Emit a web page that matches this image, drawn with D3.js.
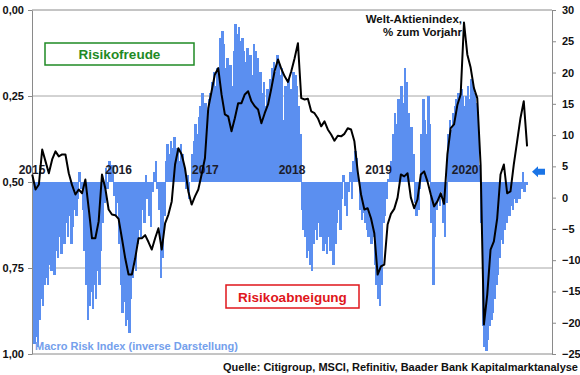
<!DOCTYPE html>
<html>
<head>
<meta charset="utf-8">
<script src="https://cdn.jsdelivr.net/npm/d3@7"></script>
<style>
  html, body { margin: 0; padding: 0; background: #fff; }
  svg { display: block; font-family: "Liberation Sans", Arial, sans-serif; }
</style>
</head>
<body>
<div id="chart"></div>
<script>
// weekly Macro Risk Index (inverted axis), first value = first week of 2015
const firstWeek = new Date(2015, 0, 2);
const riskIndex = [
  // 2015
  0.93,0.97,0.95,0.98,0.90,0.84,0.86,0.80,0.78,0.80,
  0.74,0.76,0.73,0.77,0.70,0.72,0.66,0.71,0.64,0.68,
  0.62,0.66,0.60,0.68,0.63,0.58,0.60,0.55,0.47,0.52,
  0.58,0.70,0.80,0.90,0.86,0.82,0.87,0.80,0.84,0.76,
  0.80,0.70,0.62,0.56,0.46,0.52,0.44,0.49,0.45,0.54,
  0.60,0.56,
  // 2016
  0.68,0.80,0.88,0.85,0.92,0.90,0.94,0.84,0.78,0.74,
  0.76,0.68,0.64,0.66,0.58,0.62,0.48,0.55,0.60,0.63,
  0.53,0.47,0.44,0.52,0.58,0.78,0.72,0.60,0.44,0.39,
  0.42,0.38,0.40,0.37,0.42,0.40,0.44,0.39,0.42,0.46,
  0.52,0.48,0.55,0.50,0.42,0.38,0.33,0.36,0.31,0.28,
  0.24,0.29,
  // 2017
  0.27,0.29,0.26,0.24,0.21,0.18,0.22,0.17,0.19,0.08,
  0.06,0.10,0.17,0.14,0.20,0.16,0.22,0.12,0.04,0.07,
  0.05,0.09,0.08,0.12,0.15,0.11,0.17,0.13,0.19,0.10,
  0.12,0.14,0.43,0.18,0.24,0.21,0.28,0.23,0.27,0.20,
  0.17,0.15,0.18,0.13,0.15,0.19,0.17,0.32,0.22,0.27,
  0.20,0.23,
  // 2018
  0.24,0.18,0.19,0.22,0.28,0.36,0.58,0.64,0.66,0.72,
  0.70,0.74,0.76,0.68,0.64,0.67,0.62,0.66,0.64,0.70,
  0.68,0.71,0.66,0.70,0.67,0.74,0.68,0.62,0.58,0.64,
  0.55,0.48,0.57,0.60,0.53,0.47,0.55,0.44,0.41,0.43,
  0.50,0.58,0.61,0.59,0.62,0.64,0.66,0.63,0.68,0.66,
  0.74,0.80,
  // 2019
  0.84,0.86,0.80,0.62,0.60,0.55,0.49,0.47,0.44,0.36,
  0.30,0.33,0.26,0.30,0.22,0.27,0.17,0.21,0.30,0.38,
  0.34,0.42,0.56,0.60,0.58,0.52,0.36,0.26,0.32,0.36,
  0.25,0.33,0.62,0.80,0.66,0.58,0.55,0.57,0.53,0.62,
  0.66,0.56,0.36,0.32,0.35,0.30,0.28,0.26,0.24,0.27,
  0.23,0.25,
  // 2020
  0.28,0.25,0.22,0.26,0.20,0.21,0.24,0.27,0.33,0.45,
  0.62,0.92,0.98,0.99,0.96,0.92,0.90,0.88,0.84,0.80,
  0.77,0.72,0.67,0.68,0.64,0.62,0.59,0.60,0.57,0.58,
  0.55,0.56,0.54,0.55,0.52,0.47,0.53,0.51
];

// world equity index, % yoy, every second week
const worldStocks = [
  3.7,1.3,2.1,7.7,5.8,3.9,6.1,7.4,6.6,6.9,
  6.9,3.9,2.0,0.5,1.3,0.7,2.9,-1.7,-6.5,-6.5,
  -3.8,3.7,1.5,-1.9,-2.7,-2.8,-3.4,-6.5,-9.7,-12.3,
  -12.3,-9.7,-6.5,-6.5,-6.0,-7.1,-8.3,-6.5,-4.9,-8.3,
  -4.1,-2.7,-0.6,5.3,7.9,6.9,4.7,1.0,-1.1,0.2,
  1.3,3.7,6.3,14.3,17.0,19.7,20.7,16.5,13.3,13.0,
  10.6,12.7,15.1,15.1,16.5,17.0,15.4,14.6,14.1,11.9,
  13.5,14.9,17.5,20.3,22.1,20.6,19.4,18.5,20.2,22.3,
  24.7,15.9,15.7,15.8,13.8,13.5,12.7,11.4,12.2,10.9,
  10.1,9.1,9.9,9.8,10.2,11.1,10.9,9.0,4.2,0.5,
  -1.9,-1.7,-3.3,-5.7,-12.3,-11.0,-10.7,-4.3,-2.6,-1.8,
  0.0,3.7,3.4,3.9,0.0,-1.7,-0.3,3.7,4.2,2.6,
  0.5,-1.4,-0.6,0.7,-1.0,6.9,11.1,11.7,14.8,16.5,
  28.0,22.9,20.8,17.5,15.9,5.3,-20.3,-15.5,-8.3,-7.0,
  -3.3,3.7,5.3,0.7,1.0,5.3,9.0,12.7,15.4,8.2
];

const yearLabels = [2015, 2016, 2017, 2018, 2019, 2020];
const leftTicks = [0, 0.25, 0.5, 0.75, 1];
const rightTicks = [30, 25, 20, 15, 10, 5, 0, -5, -10, -15, -20, -25];

const width = 580, height = 375;
const plot = {left: 32, right: 552, top: 10, bottom: 354};

const svg = d3.select('#chart').append('svg')
  .attr('width', width)
  .attr('height', height);

const x = d3.scaleTime()
  .domain([new Date(2015, 0, 1), new Date(2021, 0, 1)])
  .range([plot.left, plot.right]);
const yLeft = d3.scaleLinear().domain([0, 1]).range([plot.top, plot.bottom]);
const yRight = d3.scaleLinear().domain([30, -25]).range([plot.top, plot.bottom]);

// grid + frame
svg.append('g')
  .selectAll('line')
  .data([0, 0.25, 0.75, 1])
  .join('line')
    .attr('x1', plot.left).attr('x2', plot.right)
    .attr('y1', d => yLeft(d)).attr('y2', d => yLeft(d))
    .attr('stroke', d => (d === 0 || d === 1) ? '#8a8a8a' : '#a6a6a6')
    .attr('stroke-width', 1);

// bars from the 0,50 line
const base = yLeft(0.5);
const weekX = i => x(d3.timeDay.offset(firstWeek, 7 * i));
svg.append('g')
    .attr('shape-rendering', 'crispEdges')
  .selectAll('rect')
  .data(riskIndex)
  .join('rect')
    .attr('x', (d, i) => Math.floor(weekX(i)))
    .attr('width', (d, i) => Math.ceil(weekX(i + 1)) - Math.floor(weekX(i)))
    .attr('y', d => Math.min(yLeft(d), base))
    .attr('height', d => Math.abs(yLeft(d) - base))
    .attr('fill', '#5b8ff0');

// axes
const fmt = d => d3.format('.2f')(d).replace('.', ',');
const axL = svg.append('g')
  .attr('transform', `translate(${plot.left},0)`)
  .call(d3.axisLeft(yLeft).tickValues(leftTicks).tickFormat(fmt).tickSize(4).tickSizeOuter(0).tickPadding(4));
const axR = svg.append('g')
  .attr('transform', `translate(${plot.right},0)`)
  .call(d3.axisRight(yRight).tickValues(rightTicks).tickSize(4).tickSizeOuter(0).tickPadding(6));
[axL, axR].forEach(ax => {
  ax.select('.domain').attr('stroke', '#8a8a8a');
  ax.selectAll('.tick line').attr('stroke', '#8a8a8a');
  ax.selectAll('.tick text')
    .attr('fill', '#111')
    .style('font-size', '11px')
    .style('font-weight', 'bold')
    .style('font-family', '"Liberation Sans", Arial, sans-serif');
});

// year labels sitting on the 0,50 line
svg.append('g')
  .selectAll('text')
  .data(yearLabels)
  .join('text')
    .attr('x', d => x(new Date(d, 0, 1)))
    .attr('y', base - 8)
    .attr('text-anchor', 'middle')
    .attr('font-size', 12)
    .attr('font-weight', 'bold')
    .attr('fill', '#1c1c2a')
    .text(d => d);

// world equity line
const line = d3.line()
  .x((d, i) => x(d3.timeDay.offset(firstWeek, 14 * i)))
  .y(d => yRight(d));
svg.append('path')
  .datum(worldStocks)
  .attr('d', line)
  .attr('fill', 'none')
  .attr('stroke', '#000')
  .attr('stroke-width', 2)
  .attr('stroke-linejoin', 'round');

// labels
const boxes = [
  {text: 'Risikofreude', x0: 45, x1: 194, y0: 43, y1: 65, color: '#1f8a25'},
  {text: 'Risikoabneigung', x0: 226, x1: 359, y0: 285, y1: 308, color: '#e0161b'}
];
boxes.forEach(b => {
  svg.append('rect')
    .attr('x', b.x0).attr('y', b.y0)
    .attr('width', b.x1 - b.x0).attr('height', b.y1 - b.y0)
    .attr('fill', '#fff')
    .attr('stroke', b.color)
    .attr('stroke-width', 1.5);
  svg.append('text')
    .attr('x', (b.x0 + b.x1) / 2)
    .attr('y', (b.y0 + b.y1) / 2 + 5)
    .attr('text-anchor', 'middle')
    .attr('font-size', 13.5)
    .attr('font-weight', 'bold')
    .attr('fill', b.color)
    .text(b.text);
});

svg.append('text')
  .attr('x', 462).attr('y', 23)
  .attr('text-anchor', 'end')
  .attr('font-size', 11.5).attr('font-weight', 'bold').attr('fill', '#111')
  .text('Welt-Aktienindex,');
svg.append('text')
  .attr('x', 462).attr('y', 36)
  .attr('text-anchor', 'end')
  .attr('font-size', 11.5).attr('font-weight', 'bold').attr('fill', '#111')
  .text('% zum Vorjahr');

svg.append('text')
  .attr('x', 35).attr('y', 350)
  .attr('font-size', 11).attr('font-weight', 'bold').attr('fill', '#74a0ec')
  .text('Macro Risk Index (inverse Darstellung)');

svg.append('text')
  .attr('x', 578).attr('y', 371)
  .attr('text-anchor', 'end')
  .attr('font-size', 11).attr('font-weight', 'bold').attr('fill', '#111')
  .text('Quelle: Citigroup, MSCI, Refinitiv, Baader Bank Kapitalmarktanalyse');

// arrow pointing at the latest reading
const ay = yLeft(0.47);
svg.append('path')
  .attr('transform', `translate(${plot.right - 20},${ay})`)
  .attr('d', 'M0,0 L6,-5.5 L6,-3 L13,-3 L13,3 L6,3 L6,5.5 Z')
  .attr('fill', '#1a74e6');
</script>
</body>
</html>
